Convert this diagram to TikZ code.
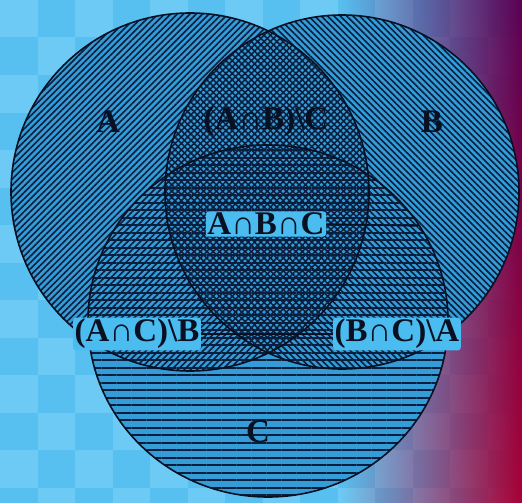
\documentclass[tikz,border=0pt]{standalone}
\usepackage{fontspec}
\setmainfont{Liberation Serif}
\usetikzlibrary{patterns.meta,fadings}
\definecolor{skyback}{RGB}{88,192,240}
\definecolor{skytile}{RGB}{108,202,245}
\definecolor{setblue}{RGB}{52,156,214}
\definecolor{hatchnavy}{RGB}{12,30,62}
\definecolor{halo}{RGB}{74,188,240}
\definecolor{inknavy}{RGB}{8,16,34}
\definecolor{cornerpurple}{RGB}{92,0,82}
\definecolor{cornercrimson}{RGB}{168,0,52}
\tikzfading[name=fadeinright, left color=transparent!100, right color=transparent!0]
% the three sets
\newcommand\setA{(190,192) circle[radius=179]}
\newcommand\setB{(342,192) circle[radius=177]}
\newcommand\setC{(268,321) ellipse[x radius=180, y radius=176]}

\begin{document}
\begin{tikzpicture}[x=1pt,y=-1pt,
    setlabel/.style={font=\bfseries\fontsize{33}{33}\selectfont, text=inknavy, inner sep=1.5pt},
    boxlabel/.style={setlabel, fill=halo, rounded corners=3pt},
    outline/.style={draw=inknavy, line width=1.6pt},
    leader/.style={draw=inknavy, line width=1.4pt}
]
\useasboundingbox (0,0) rectangle (522,503);
% background tiles and corner colours
\fill[skyback] (0,0) rectangle (522,503);
\foreach \i in {0,...,13}
  \foreach \j in {0,...,13} {
    \pgfmathtruncatemacro\odd{mod(\i+\j,2)}
    \ifnum\odd=0
      \fill[skytile] (\i*37.5,\j*37.5) rectangle ++(37.5,37.5);
    \fi
  }
\shade[top color=cornerpurple, bottom color=cornercrimson, path fading=fadeinright]
  (340,0) rectangle (522,503);

% set fills and hatching
\fill[setblue] \setA;
\fill[setblue] \setB;
\fill[setblue] \setC;
\fill[pattern={Lines[angle=45,distance=4.5pt,line width=1.6pt]}, pattern color=hatchnavy] \setA;
\fill[pattern={Lines[angle=-45,distance=4.5pt,line width=1.6pt]}, pattern color=hatchnavy] \setB;
\fill[pattern={Lines[angle=0,distance=7.5pt,line width=2pt]}, pattern color=hatchnavy] \setC;
\draw[outline] \setA;
\draw[outline] \setB;
\draw[outline] \setC;

% labels
\node[setlabel] (la) at (108,122) {A};
\node[setlabel] (lab) at (266,122) {(A∩B)\textbackslash C};
\node[setlabel] (lb) at (432,122) {B};
\node[boxlabel] (labc) at (266,224) {A∩B∩C};
\node[boxlabel] (lac) at (137,334) {(A∩C)\textbackslash B};
\node[boxlabel] (lbc) at (397,334) {(B∩C)\textbackslash A};
\node[setlabel] (lc) at (258,432) {C};

\coordinate (labcend) at (418,226);
\draw[leader] (labc.east) -- (labcend);
\draw[leader] (lac.east) -- (lbc.west);
\end{tikzpicture}
\end{document}
